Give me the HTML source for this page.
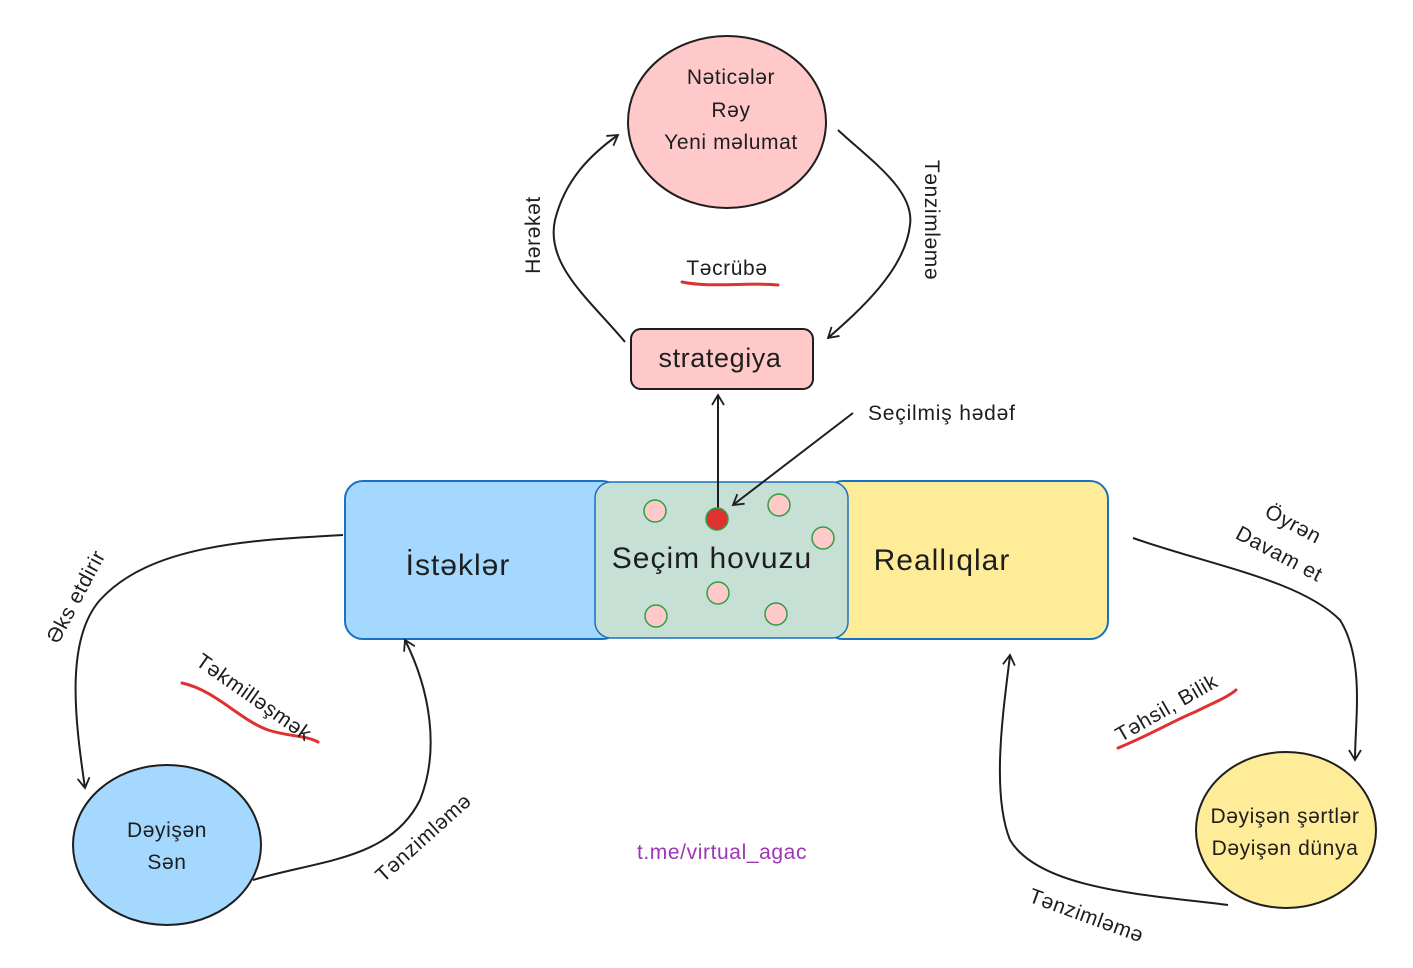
<!DOCTYPE html>
<html><head><meta charset="utf-8"><style>
html,body{margin:0;padding:0;background:#fff;}
svg{display:block;}
text{font-family:"Liberation Sans",sans-serif;fill:#1e1e1e;}
</style></head><body>
<svg width="1413" height="968" viewBox="0 0 1413 968" xmlns="http://www.w3.org/2000/svg">
<defs>
<marker id="ah" markerWidth="14" markerHeight="14" refX="11" refY="7" orient="auto" markerUnits="userSpaceOnUse">
<path d="M1,1 L11,7 L1,13" fill="none" stroke="#1e1e1e" stroke-width="1.8"/>
</marker>
</defs>
<g stroke="#1e1e1e" stroke-width="2" fill="none">
<ellipse cx="727" cy="122" rx="99" ry="86" fill="#ffc9c9"/>
<rect x="631" y="329" width="182" height="60" rx="10" fill="#ffc9c9"/>
<rect x="345" y="481" width="275" height="158" rx="18" fill="#a5d8ff" stroke="#1971c2"/>
<rect x="825" y="481" width="283" height="158" rx="18" fill="#ffec99" stroke="#1971c2"/>
<rect x="595" y="482" width="253" height="156" rx="16" fill="#c6e0d6" stroke="#1971c2" stroke-width="1.5"/>
<ellipse cx="167" cy="845" rx="94" ry="80" fill="#a5d8ff"/>
<ellipse cx="1286" cy="830" rx="90" ry="78" fill="#ffec99"/>
<path d="M625,342 C590,300 545,265 555,220 C565,180 590,155 618,135" marker-end="url(#ah)"/>
<path d="M838,130 C870,160 915,190 910,225 C905,270 860,310 828,338" marker-end="url(#ah)"/>
<path d="M718,515 L718,395" marker-end="url(#ah)"/>
<path d="M853,413 L733,505" marker-end="url(#ah)"/>
<path d="M343,535 C250,540 150,545 100,600 C65,640 75,720 85,788" marker-end="url(#ah)"/>
<path d="M253,880 C320,860 390,860 420,800 C440,750 430,690 405,640" marker-end="url(#ah)"/>
<path d="M1133,538 C1210,565 1300,580 1340,620 C1365,660 1355,720 1355,760" marker-end="url(#ah)"/>
<path d="M1228,905 C1150,895 1040,890 1010,840 C990,790 1005,700 1010,655" marker-end="url(#ah)"/>
</g>
<g fill="#ffc9c9" stroke="#2f9e44" stroke-width="1.5">
<circle cx="655" cy="511" r="11"/><circle cx="779" cy="505" r="11"/><circle cx="823" cy="538" r="11"/>
<circle cx="718" cy="593" r="11"/><circle cx="656" cy="616" r="11"/><circle cx="776" cy="614" r="11"/>
</g>
<circle cx="717" cy="519" r="11" fill="#e03131" stroke="#2f9e44" stroke-width="1.5"/>
<g stroke="#e03131" stroke-width="3" fill="none" stroke-linecap="round">
<path d="M682,282 C710,288 750,282 778,285"/>
<path d="M182,683 C215,690 240,720 268,730 C290,737 305,735 318,742"/>
<path d="M1118,748 C1150,735 1175,720 1195,712 C1215,702 1228,697 1236,690"/>
</g>
<g font-size="21" letter-spacing="0.6" text-anchor="middle">
<text x="731" y="84">Nəticələr</text>
<text x="731" y="117">Rəy</text>
<text x="731" y="149">Yeni məlumat</text>
<text x="727" y="275">Təcrübə</text>
<text x="720" y="367" font-size="27">strategiya</text>
<text x="167" y="837">Dəyişən</text>
<text x="167" y="869">Sən</text>
<text x="1285" y="823">Dəyişən şərtlər</text>
<text x="1285" y="855">Dəyişən dünya</text>
<text x="722" y="859" style="fill:#9c36b5">t.me/virtual_agac</text>
</g>
<text x="868" y="420" font-size="21" letter-spacing="0.8">Seçilmiş hədəf</text>
<g font-size="30" letter-spacing="1" text-anchor="middle">
<text x="458" y="575">İstəklər</text>
<text x="712" y="568">Seçim hovuzu</text>
<text x="942" y="570">Reallıqlar</text>
</g>
<g font-size="21" letter-spacing="0.6" text-anchor="middle">
<text transform="translate(540,235) rotate(-90)">Hərəkət</text>
<text transform="translate(925,220) rotate(90)">Tənzimləmə</text>
<text transform="translate(82,600) rotate(-62)">Əks etdirir</text>
<text transform="translate(250,703) rotate(35)">Təkmilləşmək</text>
<text transform="translate(428,843) rotate(-42)">Tənzimləmə</text>
<text transform="translate(1290,530) rotate(28)">Öyrən</text>
<text transform="translate(1276,560) rotate(28)">Davam et</text>
<text transform="translate(1170,714) rotate(-30)">Təhsil, Bilik</text>
<text transform="translate(1084,922) rotate(20)">Tənzimləmə</text>
</g>
</svg>
</body></html>
